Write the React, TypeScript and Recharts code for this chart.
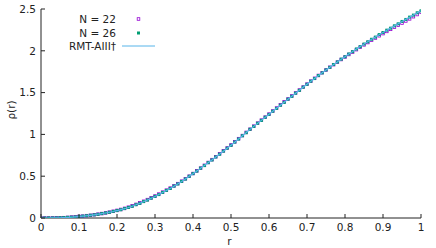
import { ComposedChart, Line, Scatter, XAxis, YAxis } from 'recharts'

const rBins = Array.from({ length: 101 }, (_, i) => i / 100)

const rmtAIII = [
  0.0, 0.0, 0.0, 0.001, 0.002, 0.003, 0.005, 0.007, 0.01, 0.014,
  0.018, 0.022, 0.027, 0.032, 0.038, 0.045, 0.052, 0.06, 0.069, 0.078,
  0.088, 0.1, 0.112, 0.125, 0.141, 0.158, 0.176, 0.195, 0.215, 0.236,
  0.258, 0.281, 0.305, 0.329, 0.354, 0.38, 0.408, 0.437, 0.467, 0.498,
  0.53, 0.562, 0.595, 0.628, 0.661, 0.695, 0.729, 0.764, 0.799, 0.834,
  0.87, 0.907, 0.945, 0.983, 1.021, 1.06, 1.096, 1.132, 1.168, 1.204,
  1.24, 1.276, 1.312, 1.348, 1.384, 1.42, 1.456, 1.492, 1.528, 1.564,
  1.6, 1.635, 1.669, 1.703, 1.737, 1.77, 1.803, 1.835, 1.867, 1.899,
  1.93, 1.961, 1.991, 2.021, 2.051, 2.08, 2.109, 2.137, 2.165, 2.193,
  2.22, 2.246, 2.272, 2.298, 2.324, 2.35, 2.376, 2.402, 2.428, 2.454, 2.48,
]

const n26 = [
  0.0, 0.0, 0.001, 0.001, 0.002, 0.004, 0.005, 0.008, 0.01, 0.013,
  0.018, 0.023, 0.027, 0.033, 0.038, 0.044, 0.053, 0.061, 0.068, 0.079,
  0.089, 0.099, 0.113, 0.126, 0.14, 0.159, 0.175, 0.196, 0.214, 0.237,
  0.259, 0.28, 0.306, 0.33, 0.353, 0.382, 0.407, 0.438, 0.466, 0.499,
  0.531, 0.561, 0.596, 0.627, 0.662, 0.694, 0.73, 0.763, 0.8, 0.835,
  0.869, 0.908, 0.944, 0.984, 1.02, 1.061, 1.095, 1.133, 1.167, 1.205,
  1.239, 1.277, 1.311, 1.349, 1.383, 1.421, 1.455, 1.493, 1.527, 1.565,
  1.599, 1.636, 1.668, 1.704, 1.736, 1.771, 1.802, 1.836, 1.866, 1.9,
  1.929, 1.962, 1.99, 2.022, 2.05, 2.081, 2.108, 2.138, 2.164, 2.194,
  2.219, 2.247, 2.271, 2.299, 2.323, 2.351, 2.375, 2.403, 2.427, 2.455, 2.478,
]

const n22 = [
  0.0, 0.0, 0.0, 0.001, 0.002, 0.003, 0.004, 0.007, 0.011, 0.014,
  0.019, 0.022, 0.028, 0.032, 0.039, 0.046, 0.053, 0.061, 0.07, 0.08,
  0.091, 0.102, 0.115, 0.129, 0.145, 0.163, 0.181, 0.2, 0.22, 0.241,
  0.263, 0.286, 0.309, 0.333, 0.358, 0.384, 0.411, 0.44, 0.469, 0.5,
  0.532, 0.564, 0.597, 0.63, 0.664, 0.698, 0.733, 0.768, 0.803, 0.838,
  0.874, 0.911, 0.949, 0.986, 1.024, 1.062, 1.099, 1.135, 1.171, 1.207,
  1.243, 1.28, 1.316, 1.353, 1.389, 1.424, 1.46, 1.496, 1.531, 1.567,
  1.602, 1.637, 1.671, 1.705, 1.738, 1.771, 1.803, 1.834, 1.865, 1.896,
  1.926, 1.956, 1.985, 2.014, 2.043, 2.071, 2.099, 2.126, 2.153, 2.18,
  2.206, 2.232, 2.257, 2.282, 2.307, 2.332, 2.357, 2.382, 2.408, 2.434, 2.462,
]

const xTicks = [0, 0.1, 0.2, 0.3, 0.4, 0.5, 0.6, 0.7, 0.8, 0.9, 1]
const yTicks = [0, 0.5, 1, 1.5, 2, 2.5]

const toPoints = (vals: number[]) => rBins.map((r, i) => ({ r, v: vals[i] }))
const rmtData = toPoints(rmtAIII)
const n22Data = toPoints(n22)
const n26Data = toPoints(n26)

const FONT = '"DejaVu Sans", sans-serif'
const FS = 10.5
const INK = '#222'
const PURPLE = '#9400d3'
const GREEN = '#009e73'
const BLUE = '#56b4e9'

const fmt = (v: number) => String(v)

const BottomTick = (props: any) => {
  const { x, y, payload } = props
  return (
    <g>
      <line x1={x} x2={x} y1={y} y2={y - 4} stroke={INK} />
      <text x={x} y={y + 13} textAnchor="middle" fontSize={FS} fontFamily={FONT} fill={INK}>
        {fmt(payload.value)}
      </text>
    </g>
  )
}

const TopTick = (props: any) => {
  const { x, y } = props
  return <line x1={x} x2={x} y1={y} y2={y + 4} stroke={INK} />
}

const LeftTick = (props: any) => {
  const { x, y, payload } = props
  return (
    <g>
      <line x1={x} x2={x + 4} y1={y} y2={y} stroke={INK} />
      <text x={x - 5} y={y + 3.8} textAnchor="end" fontSize={FS} fontFamily={FONT} fill={INK}>
        {fmt(payload.value)}
      </text>
    </g>
  )
}

const RightTick = (props: any) => {
  const { x, y } = props
  return <line x1={x} x2={x - 4} y1={y} y2={y} stroke={INK} />
}

const OpenSquare = (props: any) => {
  const { cx, cy } = props
  if (cx == null || cy == null) return <g />
  return <rect x={cx - 1.3} y={cy - 1.3} width={2.6} height={2.6} fill="none" stroke={PURPLE} strokeWidth={0.8} />
}

const FilledSquare = (props: any) => {
  const { cx, cy } = props
  if (cx == null || cy == null) return <g />
  return <rect x={cx - 1.5} y={cy - 1.5} width={3} height={3} fill={GREEN} />
}

const legendRows = [
  { label: 'N = 22', y: 19, kind: 'open' },
  { label: 'N = 26', y: 33, kind: 'filled' },
  { label: 'RMT-AIII†', y: 46, kind: 'line' },
]

export default function App() {
  return (
    <div style={{ position: 'absolute', left: 0, top: 0, width: 436, height: 248, background: '#fff' }}>
      <ComposedChart width={436} height={248} margin={{ top: 9, right: 15, left: 0, bottom: 0 }}>
        <XAxis
          xAxisId="b"
          dataKey="r"
          type="number"
          domain={[0, 1]}
          ticks={xTicks}
          interval={0}
          height={30}
          tickSize={0}
          tickMargin={0}
          tickLine={false}
          axisLine={{ stroke: INK }}
          tick={<BottomTick />}
          allowDataOverflow
        />
        <XAxis
          xAxisId="t"
          orientation="top"
          dataKey="r"
          type="number"
          domain={[0, 1]}
          ticks={xTicks}
          interval={0}
          height={0}
          tickSize={0}
          tickMargin={0}
          tickLine={false}
          axisLine={{ stroke: INK }}
          tick={<TopTick />}
          allowDataOverflow
        />
        <YAxis
          yAxisId="l"
          type="number"
          domain={[0, 2.5]}
          ticks={yTicks}
          interval={0}
          width={41}
          tickSize={0}
          tickMargin={0}
          tickLine={false}
          axisLine={{ stroke: INK }}
          tick={<LeftTick />}
          allowDataOverflow
        />
        <YAxis
          yAxisId="rt"
          orientation="right"
          type="number"
          domain={[0, 2.5]}
          ticks={yTicks}
          interval={0}
          width={0}
          tickSize={0}
          tickMargin={0}
          tickLine={false}
          axisLine={{ stroke: INK }}
          tick={<RightTick />}
          allowDataOverflow
        />
        <Scatter
          name="N = 22"
          data={n22Data}
          dataKey="v"
          xAxisId="b"
          yAxisId="l"
          shape={<OpenSquare />}
          isAnimationActive={false}
        />
        <Scatter
          name="N = 26"
          data={n26Data}
          dataKey="v"
          xAxisId="b"
          yAxisId="l"
          shape={<FilledSquare />}
          isAnimationActive={false}
        />
        <Line
          name="RMT-AIII†"
          data={rmtData}
          dataKey="v"
          xAxisId="b"
          yAxisId="l"
          type="monotone"
          stroke={BLUE}
          strokeWidth={1.2}
          dot={false}
          activeDot={false}
          isAnimationActive={false}
          {...({ zIndex: 900 } as any)}
        />
      </ComposedChart>
      <svg width={436} height={248} style={{ position: 'absolute', left: 0, top: 0, pointerEvents: 'none' }}>
        {legendRows.map((row) => (
          <g key={row.label}>
            <text x={116} y={row.y + 3.8} textAnchor="end" fontSize={FS} fontFamily={FONT} fill={INK}>
              {row.label}
            </text>
            {row.kind === 'open' && (
              <rect x={137.2} y={row.y - 1.3} width={2.6} height={2.6} fill="none" stroke={PURPLE} strokeWidth={0.8} />
            )}
            {row.kind === 'filled' && <rect x={137} y={row.y - 1.5} width={3} height={3} fill={GREEN} />}
            {row.kind === 'line' && <line x1={122} x2={155} y1={row.y} y2={row.y} stroke={BLUE} strokeWidth={1} />}
          </g>
        ))}
        <text x={229.5} y={245} textAnchor="middle" fontSize={FS} fontFamily={FONT} fill={INK}>
          r
        </text>
        <text
          x={14.5}
          y={110}
          textAnchor="middle"
          fontSize={FS}
          fontFamily={FONT}
          fill={INK}
          transform="rotate(-90 14.5 110)"
        >
          ρ(r)
        </text>
      </svg>
    </div>
  )
}
